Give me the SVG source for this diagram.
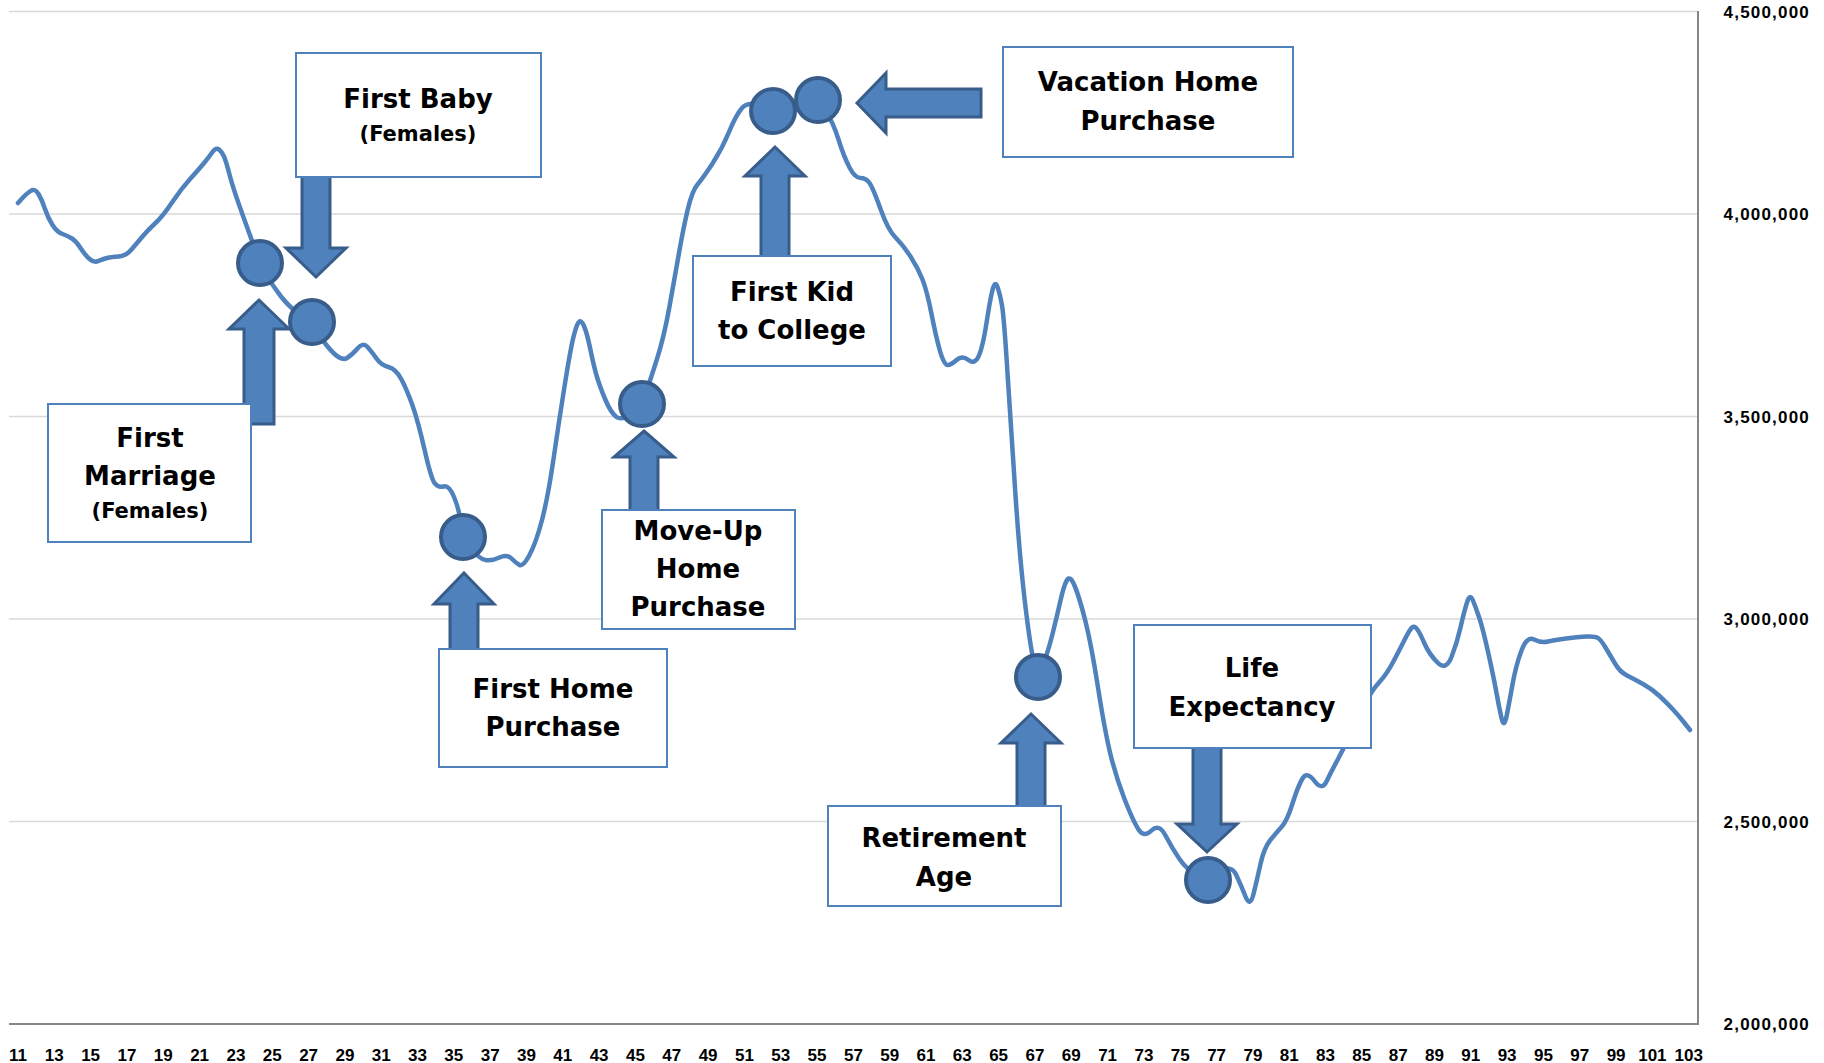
<svg xmlns="http://www.w3.org/2000/svg" width="1824" height="1063" viewBox="0 0 1824 1063">
<style>
.grid{stroke:#d9d9d9;stroke-width:1.5;fill:none}
.axis{stroke:#868686;stroke-width:2;fill:none}
.curve{stroke:#4f81bd;stroke-width:4.5;fill:none;stroke-linejoin:round;stroke-linecap:round}
.dot{fill:#4f81bd;stroke:#385d8a;stroke-width:4}
.arrow{fill:#4f81bd;stroke:#385d8a;stroke-width:3;stroke-linejoin:miter}
.box{fill:#ffffff;stroke:#4f81bd;stroke-width:2}
.t{font-family:"DejaVu Sans","Liberation Sans",sans-serif;font-weight:bold;font-size:26px;fill:#000;text-anchor:middle}
.s{font-size:21px}
.xl{font-family:"Liberation Sans",Arial,sans-serif;font-weight:bold;font-size:17px;fill:#000;text-anchor:middle}
.yl{font-family:"Liberation Sans",Arial,sans-serif;font-weight:bold;font-size:17px;letter-spacing:1.2px;fill:#000;text-anchor:end}
</style>
<rect x="0" y="0" width="1824" height="1063" fill="#ffffff"/>
<g id="gridlines">
<line class="grid" x1="9" y1="11.5" x2="1698" y2="11.5"/>
<line class="grid" x1="9" y1="214" x2="1698" y2="214"/>
<line class="grid" x1="9" y1="416.5" x2="1698" y2="416.5"/>
<line class="grid" x1="9" y1="619" x2="1698" y2="619"/>
<line class="grid" x1="9" y1="821.5" x2="1698" y2="821.5"/>
<line class="axis" x1="9" y1="1024" x2="1698" y2="1024"/>
<line class="axis" x1="1698" y1="11" x2="1698" y2="1025"/>
</g>
<g id="y-axis-labels">
<text class="yl" x="1810" y="18">4,500,000</text>
<text class="yl" x="1810" y="220">4,000,000</text>
<text class="yl" x="1810" y="423">3,500,000</text>
<text class="yl" x="1810" y="625">3,000,000</text>
<text class="yl" x="1810" y="828">2,500,000</text>
<text class="yl" x="1810" y="1030">2,000,000</text>
</g>
<g id="x-axis-labels">
<text class="xl" x="18" y="1061">11</text>
<text class="xl" x="54.3" y="1061">13</text>
<text class="xl" x="90.6" y="1061">15</text>
<text class="xl" x="127" y="1061">17</text>
<text class="xl" x="163.3" y="1061">19</text>
<text class="xl" x="199.6" y="1061">21</text>
<text class="xl" x="235.9" y="1061">23</text>
<text class="xl" x="272.2" y="1061">25</text>
<text class="xl" x="308.6" y="1061">27</text>
<text class="xl" x="344.9" y="1061">29</text>
<text class="xl" x="381.2" y="1061">31</text>
<text class="xl" x="417.5" y="1061">33</text>
<text class="xl" x="453.8" y="1061">35</text>
<text class="xl" x="490.2" y="1061">37</text>
<text class="xl" x="526.5" y="1061">39</text>
<text class="xl" x="562.8" y="1061">41</text>
<text class="xl" x="599.1" y="1061">43</text>
<text class="xl" x="635.4" y="1061">45</text>
<text class="xl" x="671.8" y="1061">47</text>
<text class="xl" x="708.1" y="1061">49</text>
<text class="xl" x="744.4" y="1061">51</text>
<text class="xl" x="780.7" y="1061">53</text>
<text class="xl" x="817" y="1061">55</text>
<text class="xl" x="853.4" y="1061">57</text>
<text class="xl" x="889.7" y="1061">59</text>
<text class="xl" x="926" y="1061">61</text>
<text class="xl" x="962.3" y="1061">63</text>
<text class="xl" x="998.6" y="1061">65</text>
<text class="xl" x="1035" y="1061">67</text>
<text class="xl" x="1071.3" y="1061">69</text>
<text class="xl" x="1107.6" y="1061">71</text>
<text class="xl" x="1143.9" y="1061">73</text>
<text class="xl" x="1180.2" y="1061">75</text>
<text class="xl" x="1216.6" y="1061">77</text>
<text class="xl" x="1252.9" y="1061">79</text>
<text class="xl" x="1289.2" y="1061">81</text>
<text class="xl" x="1325.5" y="1061">83</text>
<text class="xl" x="1361.8" y="1061">85</text>
<text class="xl" x="1398.2" y="1061">87</text>
<text class="xl" x="1434.5" y="1061">89</text>
<text class="xl" x="1470.8" y="1061">91</text>
<text class="xl" x="1507.1" y="1061">93</text>
<text class="xl" x="1543.4" y="1061">95</text>
<text class="xl" x="1579.8" y="1061">97</text>
<text class="xl" x="1616.1" y="1061">99</text>
<text class="xl" x="1652.4" y="1061">101</text>
<text class="xl" x="1688.7" y="1061">103</text>
</g>
<g id="series">
<path class="curve" d="M18,203 L22,198.5 Q26,194 30.5,191 Q35,188 38.5,194 Q42,200 45,209 Q48,218 52.5,225 Q57,232 62.5,234 Q68,236 72,238.5 Q76,241 80.5,248 Q85,255 89.5,259 Q94,263 98.5,261 Q103,259 107,258 Q111,257 118.5,256.5 Q126,256 131.5,249.5 Q137,243 142.5,236.5 Q148,230 155.5,223 Q163,216 172,202.5 Q181,189 190.5,178.5 Q200,168 204.5,162.5 Q209,157 212.5,152 Q216,147 219,149.5 Q222,152 224,156.5 Q226,161 229.5,174.5 Q233,188 242.5,214.5 Q252,241 256,252 Q260,263 266,274 Q272,285 281,296.5 Q290,308 301,315 Q312,322 319,334 Q326,346 334,353.5 Q342,361 347,358 Q352,355 357.5,348.5 Q363,342 367.5,347 Q372,352 376.5,358.5 Q381,365 388.5,367 Q396,369 401.5,379.5 Q407,390 412.5,405.5 Q418,421 424.5,449.5 Q431,478 434.5,483 Q438,488 443.5,486.5 Q449,485 454,497 Q459,509 461,523 Q463,537 471,548 Q479,559 485.5,560 Q492,561 499.5,557.5 Q507,554 511.5,558.5 Q516,563 519.5,565 Q523,567 529.5,555 Q536,543 542,520 Q548,497 553.5,459 Q559,421 564.5,386.5 Q570,352 573,339 Q576,326 578.5,322.5 Q581,319 584,326 Q587,333 590.5,350 Q594,367 597,377 Q600,387 605.5,400 Q611,413 616.5,417 Q622,421 632,412.5 Q642,404 646,392.5 Q650,381 657,359 Q664,337 669.5,306.5 Q675,276 679,253 Q683,230 687.5,210.5 Q692,191 697.5,184.5 Q703,178 712.5,163.5 Q722,149 729,132 Q736,115 742,108 Q748,101 760.5,106 Q773,111 795.5,105.5 Q818,100 825.5,111 Q833,122 838.5,139.5 Q844,157 849.5,167.5 Q855,178 860.5,178 Q866,178 869.5,183 Q873,188 880.5,209 Q888,230 895.5,237.5 Q903,245 910.5,256.5 Q918,268 922.5,279.5 Q927,291 931.5,314 Q936,337 940,351 Q944,365 947.5,365 Q951,365 956.5,360 Q962,355 968.5,360 Q975,365 979,355.5 Q983,346 986.5,323 Q990,300 992.5,290 Q995,280 997.5,287 Q1000,294 1002,305.5 Q1004,317 1007.5,373 Q1011,429 1015.5,495.5 Q1020,562 1025.5,607 Q1031,652 1034.5,664.5 Q1038,677 1043,664.5 Q1048,652 1052.5,634 Q1057,616 1060.5,600.5 Q1064,585 1067,580 Q1070,575 1074.5,585.5 Q1079,596 1085,619.5 Q1091,643 1098,687.5 Q1105,732 1110.5,754.5 Q1116,777 1124.5,799 Q1133,821 1138.5,829.5 Q1144,838 1151.5,830.5 Q1159,823 1165.5,835.5 Q1172,848 1179.5,859 Q1187,870 1197.5,875 Q1208,880 1219.5,872 Q1231,864 1236,874.5 Q1241,885 1245.5,896.5 Q1250,908 1253.5,894 Q1257,880 1260.5,864 Q1264,848 1270,840.5 Q1276,833 1281.5,827 Q1287,821 1292.5,803.5 Q1298,786 1302.5,778.5 Q1307,771 1314.5,781 Q1322,791 1326.5,781.5 Q1331,772 1337.5,760 Q1344,748 1351,733 Q1358,718 1365,704 Q1372,690 1379.5,682 Q1387,674 1395,658.5 Q1403,643 1406,637 Q1409,631 1411.5,628 Q1414,625 1417,629 Q1420,633 1424.5,643.5 Q1429,654 1437.5,662.5 Q1446,671 1451.5,657 Q1457,643 1460.5,627.5 Q1464,612 1467,602.5 Q1470,593 1473,600.5 Q1476,608 1479.5,618.5 Q1483,629 1488.5,654 Q1494,679 1496.5,693 Q1499,707 1501.5,718 Q1504,729 1506.5,716.5 Q1509,704 1512.5,684.5 Q1516,665 1521.5,650.5 Q1527,636 1534,639.5 Q1541,643 1548,641.5 Q1555,640 1566,638.5 Q1577,637 1586,636.5 Q1595,636 1598,638 Q1601,640 1605.5,647.5 Q1610,655 1615,663.5 Q1620,672 1627,675.5 Q1634,679 1643,684 Q1652,689 1659.5,696 Q1667,703 1673,709.5 Q1679,716 1684.5,723 L1690,730"/>
</g>
<g id="connectors">
<path class="arrow" d="M259,300 L289,329 L274,329 L274,424 L244,424 L244,329 L229,329 Z"/>
<path class="arrow" d="M316,277 L346,248 L330,248 L330,172 L302,172 L302,248 L286,248 Z"/>
<path class="arrow" d="M464,573 L494,604 L478,604 L478,655 L450,655 L450,604 L434,604 Z"/>
<path class="arrow" d="M644,431 L674,457 L658,457 L658,515 L630,515 L630,457 L614,457 Z"/>
<path class="arrow" d="M775,147 L805,176 L789,176 L789,260 L761,260 L761,176 L745,176 Z"/>
<path class="arrow" d="M857,103 L886,73 L886,89 L981,89 L981,117 L886,117 L886,133 Z"/>
<path class="arrow" d="M1031,714 L1061,743 L1045,743 L1045,812 L1017,812 L1017,743 L1001,743 Z"/>
<path class="arrow" d="M1207,852 L1237,824 L1221,824 L1221,744 L1193,744 L1193,824 L1177,824 Z"/>
</g>
<g id="markers">
<circle class="dot" cx="260" cy="263" r="22"/>
<circle class="dot" cx="312" cy="322" r="22"/>
<circle class="dot" cx="463" cy="537" r="22"/>
<circle class="dot" cx="642" cy="404" r="22"/>
<circle class="dot" cx="773" cy="111" r="22"/>
<circle class="dot" cx="818" cy="100" r="22"/>
<circle class="dot" cx="1038" cy="677" r="22"/>
<circle class="dot" cx="1208" cy="880" r="22"/>
</g>
<g id="node-first-baby">
<rect class="box" x="296" y="53" width="245" height="124"/>
<text class="t" x="418" y="108">First Baby</text>
<text class="t s" x="418" y="141">(Females)</text>
</g>
<g id="node-first-marriage">
<rect class="box" x="48" y="404" width="203" height="138"/>
<text class="t" x="150" y="447">First</text>
<text class="t" x="150" y="485">Marriage</text>
<text class="t s" x="150" y="518">(Females)</text>
</g>
<g id="node-first-home">
<rect class="box" x="439" y="649" width="228" height="118"/>
<text class="t" x="553" y="698">First Home</text>
<text class="t" x="553" y="736">Purchase</text>
</g>
<g id="node-move-up">
<rect class="box" x="602" y="510" width="193" height="119"/>
<text class="t" x="698" y="540">Move-Up</text>
<text class="t" x="698" y="578">Home</text>
<text class="t" x="698" y="616">Purchase</text>
</g>
<g id="node-first-kid">
<rect class="box" x="693" y="256" width="198" height="110"/>
<text class="t" x="792" y="301">First Kid</text>
<text class="t" x="792" y="339">to College</text>
</g>
<g id="node-vacation">
<rect class="box" x="1003" y="47" width="290" height="110"/>
<text class="t" x="1148" y="91">Vacation Home</text>
<text class="t" x="1148" y="130">Purchase</text>
</g>
<g id="node-retirement">
<rect class="box" x="828" y="806" width="233" height="100"/>
<text class="t" x="944" y="847">Retirement</text>
<text class="t" x="944" y="886">Age</text>
</g>
<g id="node-life">
<rect class="box" x="1134" y="625" width="237" height="123"/>
<text class="t" x="1252" y="677">Life</text>
<text class="t" x="1252" y="716">Expectancy</text>
</g>
</svg>
